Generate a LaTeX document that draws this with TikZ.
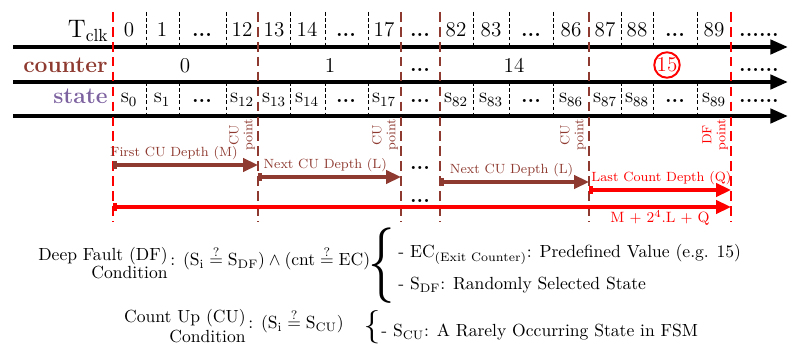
\documentclass[tikz,border=0pt]{standalone}
\usepackage{amsmath,amssymb}
\usepackage{graphicx}
\usepackage{tikz}
\usetikzlibrary{positioning,arrows.meta,calc}
\definecolor{cubrown}{RGB}{142,58,48}
\definecolor{stpurple}{RGB}{125,98,160}

\begin{document}
\begin{tikzpicture}[x=0.02cm,y=-0.02cm,
    timeaxis/.style={line width=2.3pt,-{Triangle[length=10pt,width=8pt]}},
    sepline/.style={thin,dash pattern=on 2pt off 1.5pt},
    bigline/.style={line width=1.5pt,dash pattern=on 5.5pt off 3pt},
    deptharrow/.style={line width=2pt,{Bar[width=5pt]}-{Triangle[length=8.5pt,width=7.5pt]}},
    tcell/.style={anchor=base,inner sep=0pt,font=\fontsize{12}{14}\selectfont},
    dotcell/.style={anchor=base,inner sep=0pt,font=\fontsize{12}{14}\selectfont\bfseries},
    rowlbl/.style={anchor=base east,inner sep=0pt,font=\fontsize{13}{15}\selectfont\bfseries},
    pointlbl/.style={rotate=90,anchor=south east,align=center,inner sep=1pt,font=\fontsize{7.5}{8}\selectfont},
    deplbl/.style={above,inner sep=2pt,font=\fontsize{7.6}{9}\selectfont},
    condtxt/.style={inner sep=0pt,font=\fontsize{10}{12}\selectfont}]
  \useasboundingbox (0,0) rectangle (790,357);
  \foreach \xx in {146,179,226,290,325,368,473,509,553,621,653,697} {
    \draw[sepline] (\xx,12) -- (\xx,47);
    \draw[sepline] (\xx,82) -- (\xx,116);
  }
  \foreach \r/\yy in {clk/47,cnt/82,st/116}
    \draw[timeaxis] (13,\yy) coordinate (\r L) -- (788,\yy) coordinate (\r R);
  \foreach \n/\xx/\col in {df0/113/red,cu1/258/cubrown,cu2/401/cubrown,cu2b/440/cubrown,cu3/589/cubrown,df1/731/red} {
    \coordinate (\n) at (\xx,0);
    \draw[bigline,\col] ($(\n)+(0,12)$) -- ($(\n)+(0,222)$);
  }

  % rows
  \node[anchor=base east,inner sep=0pt,font=\fontsize{14}{16}\selectfont] (tclk) at (109,38) {$\mathrm{T}_{\mathrm{clk}}$};
  \node[rowlbl,text=cubrown] (counter) at (108,73) {counter};
  \node[rowlbl,text=stpurple] (state) at (108,104) {state};
  \foreach \xx/\n in {129/0,162/1,242/12,274/13,307/14,384/17,456/82,491/83,571/86,605/87,637/88,714/89} {
    \node[tcell] (t\n) at (\xx,37) {\n};
    \node[tcell] (s\n) at (\xx,103) {$\mathrm{s}_{\n}$};
  }
  \foreach \xx [count=\i] in {202,346,420,531,675} {
    \node[dotcell] (td\i) at (\xx,37) {...};
    \node[dotcell] (sd\i) at (\xx,103) {...};
  }
  \foreach \yy/\r in {37/t,72/c,103/s}
    \node[dotcell] (\r end) at (759,\yy) {......};
  \node[tcell] (c0) at (185,73) {0};
  \node[tcell] (c1) at (330,73) {1};
  \node[dotcell] (cdots) at (420,72) {...};
  \node[tcell] (c14) at (514,73) {14};
  \node[circle,draw=red,line width=1.1pt,text=red,minimum size=14.5pt,inner sep=0pt,font=\fontsize{12}{14}\selectfont] (c15) at (667,65) {15};

  % depths
  \foreach \n/\col/\txt in {cu1/cubrown/CU,cu2/cubrown/CU,cu3/cubrown/CU,df1/red/DF}
    \node[pointlbl,text=\col] (\n lbl) at ($(\n)+(-1,117)$) {\txt\\point};
  \foreach \sa/\sb/\yy/\col/\txt/\p [count=\i] in {df0/cu1/165/cubrown/First CU Depth (M)/0.42,cu1/cu2/177/cubrown/Next CU Depth (L)/0.47,cu2b/cu3/182/cubrown/Next CU Depth (L)/0.48,cu3/df1/190/red/Last Count Depth (Q)/0.51}
    \draw[deptharrow,\col] ($(\sa)+(0,\yy)$) -- node[deplbl,text=\col,pos=\p] (dl\i) {\txt} ($(\sb)+(0,\yy)$);
  \draw[deptharrow,red] ($(df0)+(0,207)$) -- node[below,pos=0.885,inner sep=1pt,text=red,font=\fontsize{8.5}{10}\selectfont] (sumlbl) {M + 2$^4$.L + Q} ($(df1)+(0,207)$);
  \node[dotcell] (gapA) at (420,170) {...};
  \node[dotcell] (gapB) at (420,203) {...};

  % conditions
  \node[condtxt,anchor=base east] (dfc) at (168,261) {Deep Fault (DF)};
  \node[condtxt,anchor=base east] (dfc2) at (168,279) {Condition};
  \node[condtxt,anchor=base west] (dfeq) at (170,266) {: $(\mathrm{S_i}\overset{?}{=}\mathrm{S_{DF}})\wedge(\mathrm{cnt}\overset{?}{=}\mathrm{EC})$};
  \node[condtxt] (brA) at (382,266) {\scalebox{3}[4.3]{\{}};
  \node[condtxt,anchor=base west] (ecl) at (398,258) {- EC\textsubscript{(Exit Counter)}: Predefined Value (e.g. 15)};
  \node[condtxt,anchor=base west] (sdfl) at (398,290) {- S\textsubscript{DF}: Randomly Selected State};
  \node[condtxt,anchor=base east] (cuc) at (246,323) {Count Up (CU)};
  \node[condtxt,anchor=base east] (cuc2) at (246,342) {Condition};
  \node[condtxt,anchor=base west] (cueq) at (248,329) {: $(\mathrm{S_i}\overset{?}{=}\mathrm{S_{CU}})$};
  \node[condtxt] (brB) at (372,327) {\scalebox{1.9}[1.9]{\{}};
  \node[condtxt,anchor=base west] (scul) at (381,337) {- S\textsubscript{CU}: A Rarely Occurring State in FSM};
\end{tikzpicture}
\end{document}
